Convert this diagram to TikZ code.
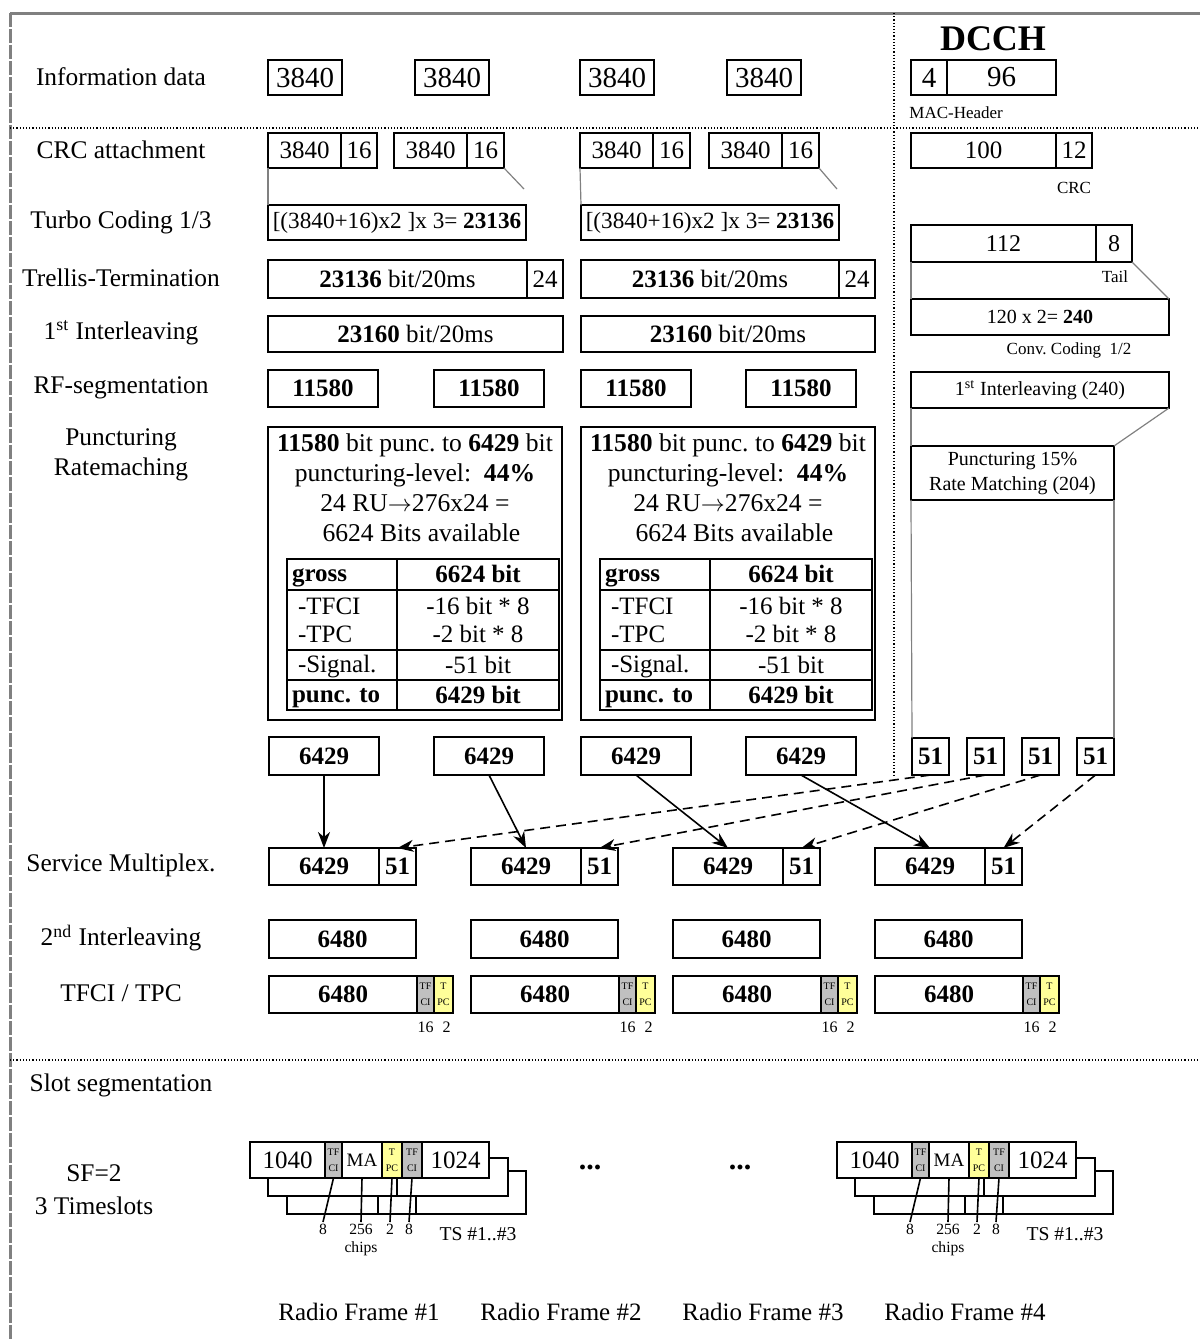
\documentclass[tikz,border=0pt]{standalone}
\usepackage{fontspec}
\setmainfont{Liberation Serif}
\usetikzlibrary{arrows.meta,positioning}
\frenchspacing
\definecolor{tfciGray}{RGB}{192,192,192}
\definecolor{tpcYellow}{RGB}{255,255,153}
\definecolor{linkGray}{RGB}{128,128,128}
\newcommand\cellstrut{\rule[-2pt]{0pt}{12pt}}
\tikzset{block/.style={
                       % The shape:
                       rectangle,inner sep=0pt,outer sep=0pt,minimum height=18.5pt,
                       % The rest
                       draw,line width=0.8pt,fill=white,
                       font=\fontsize{12.5}{15}\selectfont
                       },
         numblock/.style={block,font=\fontsize{12.5}{15}\selectfont\bfseries},
         infoblock/.style={block,minimum height=17.5pt,font=\fontsize{14.5}{16}\selectfont},
         dcchblock/.style={block,minimum height=18pt,font=\fontsize{10}{12.5}\selectfont},
         tfciblock/.style={block,fill=tfciGray,align=center,font=\fontsize{5}{8}\selectfont},
         tpcblock/.style={tfciblock,fill=tpcYellow},
         cellL/.style={block,line width=1pt,text width=50pt,inner xsep=2.5pt,align=left,
                       font=\fontsize{12.5}{14}\selectfont},
         cellR/.style={block,line width=1pt,minimum width=81pt,align=center,
                       font=\fontsize{12.5}{14}\selectfont},
         rowlabel/.style={align=center,font=\fontsize{12.7}{15}\selectfont},
         note/.style={inner sep=1pt,font=\fontsize{8.5}{10}\selectfont},
         link/.style={draw=linkGray,line width=0.6pt},
         sepline/.style={line width=0.6pt,dash pattern=on 0.6pt off 1pt},
         frameline/.style={draw=linkGray,line width=1.5pt},
         slotline/.style={line width=1pt},
         flow/.style={->,line width=0.8pt},
         tick/.style={line width=0.8pt}
}
% one radio frame cut into its three timeslots
\newcommand\slotframe[2]{%
  \begin{scope}[shift={(#2,0)}]
    % second and third slot
    \draw[slotline,fill=white] (287,1171) rectangle (526,1214);
    \draw[slotline] (378,1196) -- (378,1214) (416,1196) -- (416,1214);
    \draw[slotline,fill=white] (268,1158) rectangle (508,1196);
    \draw[slotline] (397,1178) -- (397,1196);
    % first slot
    \node (#1Data) [block,slotline,anchor=west,minimum width=37.5pt,minimum height=18pt] at (250,1160) {1040};
    \node (#1TfciA) [tfciblock,line width=1.2pt,minimum width=8.5pt,minimum height=18pt,right=0pt of #1Data] {TF\\CI};
    \node (#1Ma) [block,line width=1.2pt,minimum width=20pt,minimum height=18pt,font=\fontsize{9.5}{12}\selectfont,right=0pt of #1TfciA] {MA};
    \node (#1Tpc) [tpcblock,line width=1.2pt,minimum width=10pt,minimum height=18pt,right=0pt of #1Ma] {T\\PC};
    \node (#1TfciB) [tfciblock,line width=1.2pt,minimum width=10pt,minimum height=18pt,right=0pt of #1Tpc] {TF\\CI};
    \node (#1DataB) [block,slotline,minimum width=33.5pt,minimum height=18pt,right=0pt of #1TfciB] {1024};
    % lengths
    \node (#1LblA) [note,anchor=north,font=\fontsize{7.8}{9}\selectfont] at (323,1222) {8};
    \node (#1LblB) [note,anchor=north,align=center,font=\fontsize{7.8}{9}\selectfont] at (361,1222) {256\\chips};
    \node (#1LblC) [note,anchor=north,font=\fontsize{7.8}{9}\selectfont] at (390,1222) {2};
    \node (#1LblD) [note,anchor=north,font=\fontsize{7.8}{9}\selectfont] at (409,1222) {8};
    \draw[tick] (#1TfciA.south) -- (#1LblA.north);
    \draw[tick] (#1Ma.south) -- (#1LblB.north);
    \draw[tick] (#1Tpc.south) -- (#1LblC.north);
    \draw[tick] (#1TfciB.south) -- (#1LblD.north);
    \node (#1Ts) [note,font=\fontsize{9.8}{11}\selectfont] at (478,1234) {TS \#1..\#3};
  \end{scope}}

\begin{document}
\begin{tikzpicture}[x=0.5pt,y=-0.5pt,
                    >={Stealth[length=8pt,width=6pt,inset=2.5pt]}]
  \useasboundingbox (0,0) rectangle (1200,1340);
  % Frame and separators:
  \draw[frameline] (10,13) -- (1200,13);
  \draw[frameline,dash pattern=on 7pt off 1pt] (10,13) -- (10,1340);
  \draw[sepline] (10,128) -- (1200,128);
  \draw[sepline] (10,1060) -- (1200,1060);
  \draw[sepline] (894,13) -- (894,775);

  % Row labels:
  \node (lblInfo) [rowlabel] at (121,77) {Information data};
  \node (lblCrc) [rowlabel] at (121,150) {CRC attachment};
  \node (lblTurbo) [rowlabel] at (121,222) {Turbo Coding 1/3};
  \node (lblTrellis) [rowlabel] at (121,278) {Trellis-Termination};
  \node (lblInter) [rowlabel] at (121,333) {1\textsuperscript{st} Interleaving};
  \node (lblRf) [rowlabel] at (121,388) {RF-segmentation};
  \node (lblPunc) [rowlabel] at (121,455) {Puncturing\\Ratemaching};
  \node (lblMux) [rowlabel] at (121,865) {Service Multiplex.};
  \node (lblInter2) [rowlabel] at (121,938) {2\textsuperscript{nd} Interleaving};
  \node (lblTfci) [rowlabel] at (121,993) {TFCI / TPC};
  \node (lblSlot) [rowlabel] at (121,1085) {Slot segmentation};
  \node (lblSf) [rowlabel] at (94,1190) {SF=2\\[1.5pt]3 Timeslots};

  % Information data:
  \node (info1) [infoblock,minimum width=37pt] at (305,77.5) {3840};
  \node (info2) [infoblock,minimum width=37pt] at (452,77.5) {3840};
  \node (info3) [infoblock,minimum width=37pt] at (617,77.5) {3840};
  \node (info4) [infoblock,minimum width=37pt] at (764,77.5) {3840};
  \node (dcchTitle) [font=\fontsize{18}{20}\selectfont\bfseries] at (993,39) {DCCH};
  \node (dcchHead) [infoblock,anchor=west,minimum width=18pt] at (911,77.5) {4};
  \node (dcchData) [infoblock,minimum width=54.5pt,right=0pt of dcchHead] {96};
  \node (macLbl) [note,anchor=west] at (907,113) {MAC-Header};

  % CRC attachment:
  \node (crc1) [block,anchor=west,minimum width=36.5pt,minimum height=17.5pt] at (268,150.5) {3840};
  \node (crc1Tail) [block,minimum width=18pt,minimum height=17.5pt,right=0pt of crc1] {16};
  \node (crc2) [block,anchor=west,minimum width=36.5pt,minimum height=17.5pt] at (394,150.5) {3840};
  \node (crc2Tail) [block,minimum width=18.5pt,minimum height=17.5pt,right=0pt of crc2] {16};
  \node (crc3) [block,anchor=west,minimum width=36.5pt,minimum height=17.5pt] at (580,150.5) {3840};
  \node (crc3Tail) [block,minimum width=18.5pt,minimum height=17.5pt,right=0pt of crc3] {16};
  \node (crc4) [block,anchor=west,minimum width=36.5pt,minimum height=17.5pt] at (709,150.5) {3840};
  \node (crc4Tail) [block,minimum width=18.5pt,minimum height=17.5pt,right=0pt of crc4] {16};
  \node (dcchCrcData) [block,anchor=west,minimum width=72.5pt,minimum height=17.5pt] at (911,150.5) {100};
  \node (dcchCrc) [block,minimum width=18pt,minimum height=17.5pt,right=0pt of dcchCrcData] {12};
  \node (crcLbl) [note] at (1074,188) {CRC};

  % Turbo coding, trellis termination, 1st interleaving:
  \node (turbo1) [block,anchor=west,minimum width=129pt,minimum height=17.5pt,font=\fontsize{11.6}{14}\selectfont] at (268,222.5) {[(3840+16)x2 ]x 3= \textbf{23136}};
  \node (turbo2) [block,anchor=west,minimum width=129pt,minimum height=17.5pt,font=\fontsize{11.6}{14}\selectfont] at (581,222.5) {[(3840+16)x2 ]x 3= \textbf{23136}};
  \coordinate (crc2End) at (524,189);
  \coordinate (crc4End) at (837,189);
  \draw[link] (crc1.south west) -- (turbo1.north west);
  \draw[link] (crc2Tail.south east) -- (crc2End);
  \draw[link] (crc3.south west) -- (turbo2.north west);
  \draw[link] (crc4Tail.south east) -- (crc4End);

  \node (trellis1) [block,anchor=west,minimum width=129.5pt,minimum height=19pt] at (268,279) {\textbf{23136} bit/20ms};
  \node (trellis1Tail) [block,minimum width=18pt,minimum height=19pt,right=0pt of trellis1] {24};
  \node (trellis2) [block,anchor=west,minimum width=129pt,minimum height=19pt] at (581,279) {\textbf{23136} bit/20ms};
  \node (trellis2Tail) [block,minimum width=18pt,minimum height=19pt,right=0pt of trellis2] {24};

  \node (inter1) [block,anchor=west,minimum width=147.5pt,minimum height=18pt] at (268,334) {\textbf{23160} bit/20ms};
  \node (inter2) [block,anchor=west,minimum width=147pt,minimum height=18pt] at (581,334) {\textbf{23160} bit/20ms};

  % DCCH coding chain:
  \node (dcchCoded) [block,anchor=west,minimum width=92.5pt,font=\fontsize{12}{14}\selectfont] at (911,243.5) {112};
  \node (dcchTail) [block,minimum width=18pt,font=\fontsize{12}{14}\selectfont,right=0pt of dcchCoded] {8};
  \node (tailLbl) [note] at (1115,277) {Tail};
  \node (dcchConv) [dcchblock,anchor=west,minimum width=129pt] at (911,317) {120 x 2= \textbf{240}};
  \node (convLbl) [note] at (1069,350) {Conv. Coding\ \ 1/2};
  \node (dcchInter) [dcchblock,anchor=west,minimum width=129pt] at (911,390) {1\textsuperscript{st} Interleaving (240)};
  \node (dcchPunc) [dcchblock,anchor=west,minimum width=101.5pt,minimum height=27pt,align=center] at (911,473) {Puncturing 15\%\\Rate Matching (204)};
  \draw[link] (dcchCoded.south west) -- (dcchConv.north west);
  \draw[link] (dcchTail.south east) -- (dcchConv.north east);
  \draw[link] (dcchInter.south west) -- (dcchPunc.north west);
  \draw[link] (dcchInter.south east) -- (dcchPunc.north east);

  % RF segmentation:
  \node (rf1) [numblock,minimum width=55pt] at (323,388.5) {11580};
  \node (rf2) [numblock,minimum width=55pt] at (489,388.5) {11580};
  \node (rf3) [numblock,minimum width=55pt] at (636,388.5) {11580};
  \node (rf4) [numblock,minimum width=55pt] at (801,388.5) {11580};

  % Puncturing / rate matching:
  \node (punc1) [block,line width=1pt,anchor=north west,minimum width=147pt,minimum height=146.5pt] at (268,427) {};
  \node (punc1Text) [align=center,font=\fontsize{12.8}{15}\selectfont] at (415,488) {\textbf{11580} bit punc. to \textbf{6429} bit\\puncturing-level:\ \ \textbf{44\%}\\24 RU$\rightarrow$276x24 =\\\ \ 6624 Bits available};
  \node (punc1Gross) [cellL,anchor=north west,minimum height=15.5pt] at (287,559) {\cellstrut\textbf{gross}};
  \node (punc1GrossVal) [cellR,minimum height=15.5pt,right=0pt of punc1Gross] {\cellstrut\textbf{6624 bit}};
  \node (punc1Ctrl) [cellL,minimum height=30pt,below=0pt of punc1Gross] {\cellstrut\hspace*{3pt}-TFCI\\\cellstrut\hspace*{3pt}-TPC};
  \node (punc1CtrlVal) [cellR,minimum height=30pt,right=0pt of punc1Ctrl] {\cellstrut-16 bit * 8\\\cellstrut-2 bit * 8};
  \node (punc1Sig) [cellL,minimum height=15pt,below=0pt of punc1Ctrl] {\cellstrut\hspace*{3pt}-Signal.};
  \node (punc1SigVal) [cellR,minimum height=15pt,right=0pt of punc1Sig] {\cellstrut-51 bit};
  \node (punc1Net) [cellL,minimum height=15pt,below=0pt of punc1Sig] {\cellstrut\textbf{punc. to}};
  \node (punc1NetVal) [cellR,minimum height=15pt,right=0pt of punc1Net] {\cellstrut\textbf{6429 bit}};

  \node (punc2) [block,line width=1pt,anchor=north west,minimum width=147pt,minimum height=146.5pt] at (581,427) {};
  \node (punc2Text) [align=center,font=\fontsize{12.8}{15}\selectfont] at (728,488) {\textbf{11580} bit punc. to \textbf{6429} bit\\puncturing-level:\ \ \textbf{44\%}\\24 RU$\rightarrow$276x24 =\\\ \ 6624 Bits available};
  \node (punc2Gross) [cellL,anchor=north west,minimum height=15.5pt] at (600,559) {\cellstrut\textbf{gross}};
  \node (punc2GrossVal) [cellR,minimum height=15.5pt,right=0pt of punc2Gross] {\cellstrut\textbf{6624 bit}};
  \node (punc2Ctrl) [cellL,minimum height=30pt,below=0pt of punc2Gross] {\cellstrut\hspace*{3pt}-TFCI\\\cellstrut\hspace*{3pt}-TPC};
  \node (punc2CtrlVal) [cellR,minimum height=30pt,right=0pt of punc2Ctrl] {\cellstrut-16 bit * 8\\\cellstrut-2 bit * 8};
  \node (punc2Sig) [cellL,minimum height=15pt,below=0pt of punc2Ctrl] {\cellstrut\hspace*{3pt}-Signal.};
  \node (punc2SigVal) [cellR,minimum height=15pt,right=0pt of punc2Sig] {\cellstrut-51 bit};
  \node (punc2Net) [cellL,minimum height=15pt,below=0pt of punc2Sig] {\cellstrut\textbf{punc. to}};
  \node (punc2NetVal) [cellR,minimum height=15pt,right=0pt of punc2Net] {\cellstrut\textbf{6429 bit}};

  % Punctured blocks and signalling blocks:
  \node (out1) [numblock,minimum width=55pt,minimum height=19pt] at (324,756) {6429};
  \node (out2) [numblock,minimum width=55pt,minimum height=19pt] at (489,756) {6429};
  \node (out3) [numblock,minimum width=55pt,minimum height=19pt] at (636,756) {6429};
  \node (out4) [numblock,minimum width=55pt,minimum height=19pt] at (801,756) {6429};
  \node (sig1) [numblock,minimum width=18.5pt] at (930.5,756.5) {51};
  \node (sig2) [numblock,minimum width=18.5pt] at (985.5,756.5) {51};
  \node (sig3) [numblock,minimum width=18.5pt] at (1040.5,756.5) {51};
  \node (sig4) [numblock,minimum width=18.5pt] at (1095.5,756.5) {51};
  \draw[link] (dcchPunc.south west) -- (sig1.north west);
  \draw[link] (dcchPunc.south east) -- (sig4.north east);

  % Service multiplex:
  \node (mux1) [numblock,anchor=west,minimum width=55pt] at (269,866.5) {6429};
  \node (mux1Sig) [numblock,minimum width=18.5pt,right=0pt of mux1] {51};
  \node (mux2) [numblock,anchor=west,minimum width=55pt] at (471,866.5) {6429};
  \node (mux2Sig) [numblock,minimum width=18.5pt,right=0pt of mux2] {51};
  \node (mux3) [numblock,anchor=west,minimum width=55pt] at (673,866.5) {6429};
  \node (mux3Sig) [numblock,minimum width=18.5pt,right=0pt of mux3] {51};
  \node (mux4) [numblock,anchor=west,minimum width=55pt] at (875,866.5) {6429};
  \node (mux4Sig) [numblock,minimum width=18.5pt,right=0pt of mux4] {51};

  \draw[flow] (out1.south) -- (mux1.north);
  \draw[flow] (out2.south) -- (mux2.north);
  \draw[flow] (out3.south) -- (mux3.north);
  \draw[flow] (out4.south) -- (mux4.north);
  \draw[flow,dash pattern=on 5pt off 3pt] (sig1.south) -- (mux1Sig.north);
  \draw[flow,dash pattern=on 5pt off 3pt] (sig2.south) -- (mux2Sig.north);
  \draw[flow,dash pattern=on 5pt off 3pt] (sig3.south) -- (mux3Sig.north);
  \draw[flow,dash pattern=on 5pt off 3pt] (sig4.south) -- (mux4Sig.north);

  % 2nd interleaving:
  \node (secInter1) [numblock,anchor=west,minimum width=73.5pt,minimum height=19pt] at (269,939) {6480};
  \node (secInter2) [numblock,anchor=west,minimum width=73.5pt,minimum height=19pt] at (471,939) {6480};
  \node (secInter3) [numblock,anchor=west,minimum width=73.5pt,minimum height=19pt] at (673,939) {6480};
  \node (secInter4) [numblock,anchor=west,minimum width=73.5pt,minimum height=19pt] at (875,939) {6480};

  % TFCI / TPC insertion:
  \node (ctrl1) [numblock,anchor=west,minimum width=74pt] at (269,994.5) {6480};
  \node (ctrl1Tfci) [tfciblock,minimum width=8.5pt,right=0pt of ctrl1] {TF\\CI};
  \node (ctrl1Tpc) [tpcblock,minimum width=9.5pt,right=0pt of ctrl1Tfci] {T\\PC};
  \node (ctrl2) [numblock,anchor=west,minimum width=74pt] at (471,994.5) {6480};
  \node (ctrl2Tfci) [tfciblock,minimum width=8.5pt,right=0pt of ctrl2] {TF\\CI};
  \node (ctrl2Tpc) [tpcblock,minimum width=9.5pt,right=0pt of ctrl2Tfci] {T\\PC};
  \node (ctrl3) [numblock,anchor=west,minimum width=74pt] at (673,994.5) {6480};
  \node (ctrl3Tfci) [tfciblock,minimum width=8.5pt,right=0pt of ctrl3] {TF\\CI};
  \node (ctrl3Tpc) [tpcblock,minimum width=9.5pt,right=0pt of ctrl3Tfci] {T\\PC};
  \node (ctrl4) [numblock,anchor=west,minimum width=74pt] at (875,994.5) {6480};
  \node (ctrl4Tfci) [tfciblock,minimum width=8.5pt,right=0pt of ctrl4] {TF\\CI};
  \node (ctrl4Tpc) [tpcblock,minimum width=9.5pt,right=0pt of ctrl4Tfci] {T\\PC};
  \node (ctrl1TfciLen) [note,font=\fontsize{8}{9}\selectfont,below=3pt of ctrl1Tfci] {16};
  \node (ctrl1TpcLen) [note,font=\fontsize{8}{9}\selectfont,below=3pt of ctrl1Tpc,xshift=1.5pt] {2};
  \node (ctrl2TfciLen) [note,font=\fontsize{8}{9}\selectfont,below=3pt of ctrl2Tfci] {16};
  \node (ctrl2TpcLen) [note,font=\fontsize{8}{9}\selectfont,below=3pt of ctrl2Tpc,xshift=1.5pt] {2};
  \node (ctrl3TfciLen) [note,font=\fontsize{8}{9}\selectfont,below=3pt of ctrl3Tfci] {16};
  \node (ctrl3TpcLen) [note,font=\fontsize{8}{9}\selectfont,below=3pt of ctrl3Tpc,xshift=1.5pt] {2};
  \node (ctrl4TfciLen) [note,font=\fontsize{8}{9}\selectfont,below=3pt of ctrl4Tfci] {16};
  \node (ctrl4TpcLen) [note,font=\fontsize{8}{9}\selectfont,below=3pt of ctrl4Tpc,xshift=1.5pt] {2};

  % Slot segmentation:
  \slotframe{slotA}{0}
  \slotframe{slotD}{587}
  \node (dotsA) [font=\fontsize{15}{15}\selectfont\bfseries] at (590,1167) {...};
  \node (dotsB) [font=\fontsize{15}{15}\selectfont\bfseries] at (740,1167) {...};

  \node (frame1) [rowlabel,font=\fontsize{12.5}{15}\selectfont] at (359,1312) {Radio Frame \#1};
  \node (frame2) [rowlabel,font=\fontsize{12.5}{15}\selectfont] at (561,1312) {Radio Frame \#2};
  \node (frame3) [rowlabel,font=\fontsize{12.5}{15}\selectfont] at (763,1312) {Radio Frame \#3};
  \node (frame4) [rowlabel,font=\fontsize{12.5}{15}\selectfont] at (965,1312) {Radio Frame \#4};
\end{tikzpicture}
\end{document}
